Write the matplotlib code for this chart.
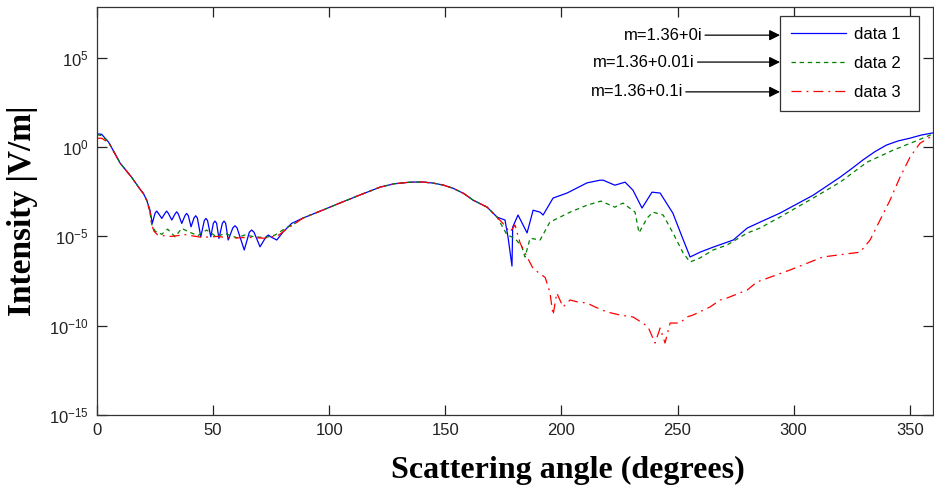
import numpy as np
import matplotlib
matplotlib.use("Agg")
import matplotlib.pyplot as plt

# scattering angle (deg) and log10 intensity
angle_1 = [0, 2, 5, 10, 15, 18.5, 20, 21.4, 22.8, 23.8, 25.0, 25.7, 26.4, 27.9, 29.3, 30.0, 30.7,
           32.2, 33.6, 34.3, 35.0, 36.5, 37.9, 38.6, 39.3, 40.5, 41.8, 42.5, 43.2, 44.7, 46.2,
           46.9, 47.6, 49.0, 50.1, 50.8, 51.5, 52.5, 54.0, 54.7, 55.4, 56.5, 58.5, 59.4, 60.3,
           63.4, 65.6, 66.6, 67.6, 70.2, 72.8, 73.8, 74.8, 77.4, 80.2, 83.8, 88.7, 97.3, 104.6,
           113, 121.9, 128, 134.8, 140, 144.7, 149, 153.3, 158, 162, 168, 172.3, 175.7, 177,
           178.7, 179, 181.3, 185.2, 187.8, 190.8, 192.1, 196.4, 202.4, 211, 216.6, 218, 223,
           227.4, 230.8, 234.7, 239, 242.5, 248, 252, 255.4, 259.7, 265.3, 274, 280, 285.5, 294,
           308.4, 320, 325, 330, 335, 340, 345, 350, 355, 360]
log_1 = [0.75, 0.72, 0.28, -0.9, -1.7, -2.35, -2.6, -2.97, -3.52, -4.27, -3.7, -3.58, -3.7,
         -3.99, -3.7, -3.58, -3.7, -4.08, -3.74, -3.62, -3.74, -4.27, -3.83, -3.71, -3.83, -4.46,
         -3.96, -3.84, -3.96, -5.02, -4.11, -3.99, -4.11, -5.02, -4.26, -4.14, -4.26, -5.11,
         -4.26, -4.14, -4.26, -5.2, -4.52, -4.4, -4.52, -5.76, -4.76, -4.64, -4.76, -5.58, -5.02,
         -4.92, -5.02, -5.2, -4.74, -4.27, -3.97, -3.52, -3.13, -2.69, -2.24, -2.05, -1.96,
         -1.95, -2.01, -2.12, -2.3, -2.6, -2.97, -3.36, -3.92, -4.08, -5.04, -6.66, -4.48, -3.8,
         -4.8, -3.53, -3.64, -3.8, -2.85, -2.57, -2.0, -1.85, -1.85, -2.13, -1.96, -2.41, -3.41,
         -2.52, -2.57, -3.7, -5.04, -6.15, -5.88, -5.6, -5.2, -4.53, -4.2, -3.7, -2.69, -1.68,
         -1.2, -0.7, -0.25, 0.12, 0.35, 0.5, 0.68, 0.8]

angle_2 = [0, 2, 5, 10, 15, 18.5, 20, 21.4, 22.8, 23.5, 25, 27.9, 30.4, 33.6, 36.5, 40, 43.5,
           47.2, 51.5, 55, 60.2, 63.7, 68, 72.4, 76.7, 81, 85.3, 88.7, 97.3, 104.6, 113, 121.9,
           128, 134.8, 140, 144.7, 149, 153.3, 158, 162, 168, 172.3, 176.6, 180, 183, 184.3,
           186.5, 190.8, 195, 203.7, 211, 217, 223, 226.5, 231.7, 233.4, 236.9, 239.4, 243.8,
           248, 252.4, 255.4, 259.7, 265.3, 271.3, 280, 285.5, 294, 308.4, 320, 331.6, 342.8,
           351.4, 358.7, 360]
log_2 = [0.7, 0.65, 0.3, -0.9, -1.7, -2.35, -2.6, -2.97, -3.6, -4.3, -4.7, -4.88, -4.59, -5.02,
         -4.55, -4.77, -4.95, -4.64, -5.02, -4.83, -5.07, -4.92, -5.02, -5.07, -4.92, -4.55,
         -4.27, -3.97, -3.52, -3.13, -2.69, -2.24, -2.05, -1.96, -1.95, -2.01, -2.12, -2.3,
         -2.6, -2.97, -3.36, -3.92, -4.92, -5.1, -5.6, -6.15, -5.1, -5.2, -4.2, -3.64, -3.25,
         -3.02, -3.36, -3.13, -3.64, -4.8, -3.97, -3.64, -3.8, -4.8, -5.93, -6.43, -6.2, -5.76,
         -5.48, -4.81, -4.53, -3.92, -2.85, -1.96, -0.84, -0.17, 0.28, 0.67, 0.75]

angle_3 = [0, 2, 5, 10, 15, 18.5, 20, 21.4, 22.8, 23.5, 24.5, 26, 28, 32, 38, 45, 52, 58, 65, 72,
           78, 82, 85.3, 88.7, 97.3, 104.6, 113, 121.9, 128, 134.8, 140, 144.7, 149, 153.3, 158,
           162, 168, 172.3, 175, 177.8, 180, 182.2, 185.2, 187.8, 193, 195, 196.4, 198, 200.7,
           203.7, 207, 211, 214.5, 219.6, 225.2, 230.8, 235, 237.3, 240.3, 242.5, 244.6, 246.8,
           251, 254, 256.7, 264, 268.3, 271.3, 280, 284.2, 298.4, 312.6, 328.6, 332.9, 337.2,
           341.5, 345.8, 350.1, 354.4, 358.7, 360]
log_3 = [0.5, 0.5, 0.25, -0.9, -1.7, -2.35, -2.6, -2.97, -3.6, -4.3, -4.7, -4.9, -4.95, -5.0,
         -4.9, -5.05, -5.0, -5.1, -5.05, -5.1, -4.95, -4.55, -4.27, -3.97, -3.52, -3.13, -2.69,
         -2.24, -2.05, -1.96, -1.95, -2.01, -2.12, -2.3, -2.6, -2.97, -3.36, -3.92, -4.3, -4.76,
         -4.36, -5.37, -6.15, -6.8, -7.3, -8.11, -9.4, -8.17, -8.95, -8.56, -8.67, -8.73, -8.95,
         -9.23, -9.4, -9.51, -9.85, -10.07, -10.97, -10.13, -10.97, -9.85, -9.85, -9.51, -9.4,
         -8.95, -8.56, -8.45, -8.0, -7.55, -6.88, -6.15, -5.88, -5.2, -4.08, -2.97, -1.68,
         -0.56, 0.22, 0.56, 0.7]

legend_labels = ["data 1", "data 2", "data 3"]
m_labels = ["m=1.36+0i", "m=1.36+0.01i", "m=1.36+0.1i"]
ytick_exp = [-15, -10, -5, 0, 5]
xticks = [0, 50, 100, 150, 200, 250, 300, 350]

plt.rcParams['font.family'] = ["Liberation Sans", "DejaVu Sans"]
plt.rcParams['mathtext.fontset'] = 'custom'
plt.rcParams['mathtext.rm'] = 'Liberation Sans'
plt.rcParams['mathtext.default'] = 'rm'

fig = plt.figure(figsize=(9.34, 4.93), dpi=100)
ax = fig.add_axes([97 / 934, 1 - 415 / 493, 836 / 934, 408 / 493])

ax.semilogy(angle_1, 10 ** np.array(log_1), color='#0000ff', lw=0.9, label=legend_labels[0])
ax.semilogy(angle_2, 10 ** np.array(log_2), color='#008000', lw=0.9, ls=(0, (3.5, 3)),
            label=legend_labels[1])
ax.semilogy(angle_3, 10 ** np.array(log_3), color='#ff0000', lw=0.9, ls=(0, (8, 4, 1.5, 4)),
            label=legend_labels[2])

ax.set_xlim(0, 360)
ax.set_ylim(1e-15, 10 ** 7.85)
ax.set_xticks(xticks)
ax.set_xticklabels([str(t) for t in xticks])
ax.set_yticks([10.0 ** e for e in ytick_exp])
ax.set_yticklabels([r'$10^{%d}$' % e for e in ytick_exp])
ax.minorticks_off()
ax.tick_params(direction='in', length=7, width=0.9, top=True, right=True,
               labelsize=12, pad=6, colors='#222222')
for s in ax.spines.values():
    s.set_linewidth(0.9)
    s.set_color('#333333')

ax.set_xlabel("Scattering angle (degrees)", family='Liberation Serif', fontweight='bold',
              fontsize=23)
ax.xaxis.set_label_coords(0.563, -0.1)
ax.set_ylabel("Intensity |V/m|", family='Liberation Serif', fontweight='bold', fontsize=24,
              labelpad=8)

leg = ax.legend(loc='upper left', bbox_to_anchor=(0.817, 0.748, 0.166, 0.23), mode='expand',
                borderaxespad=0, fancybox=False, framealpha=1, edgecolor='#333333',
                fontsize=12, handlelength=3.3, handletextpad=0.5, labelspacing=0.85,
                borderpad=0.65)
leg.get_frame().set_linewidth(0.9)

ys = [0.931, 0.865, 0.792]
xs = [0.724, 0.715, 0.701]
for lab, x, y in zip(m_labels, xs, ys):
    ax.annotate(lab, xy=(0.817, y), xytext=(x, y), xycoords='axes fraction',
                textcoords='axes fraction', ha='right', va='center', fontsize=12,
                arrowprops=dict(arrowstyle='-|>', color='black', lw=0.9, relpos=(1, 0.5),
                                shrinkA=0, shrinkB=0, mutation_scale=16))

fig.savefig("out.png", dpi=100)
